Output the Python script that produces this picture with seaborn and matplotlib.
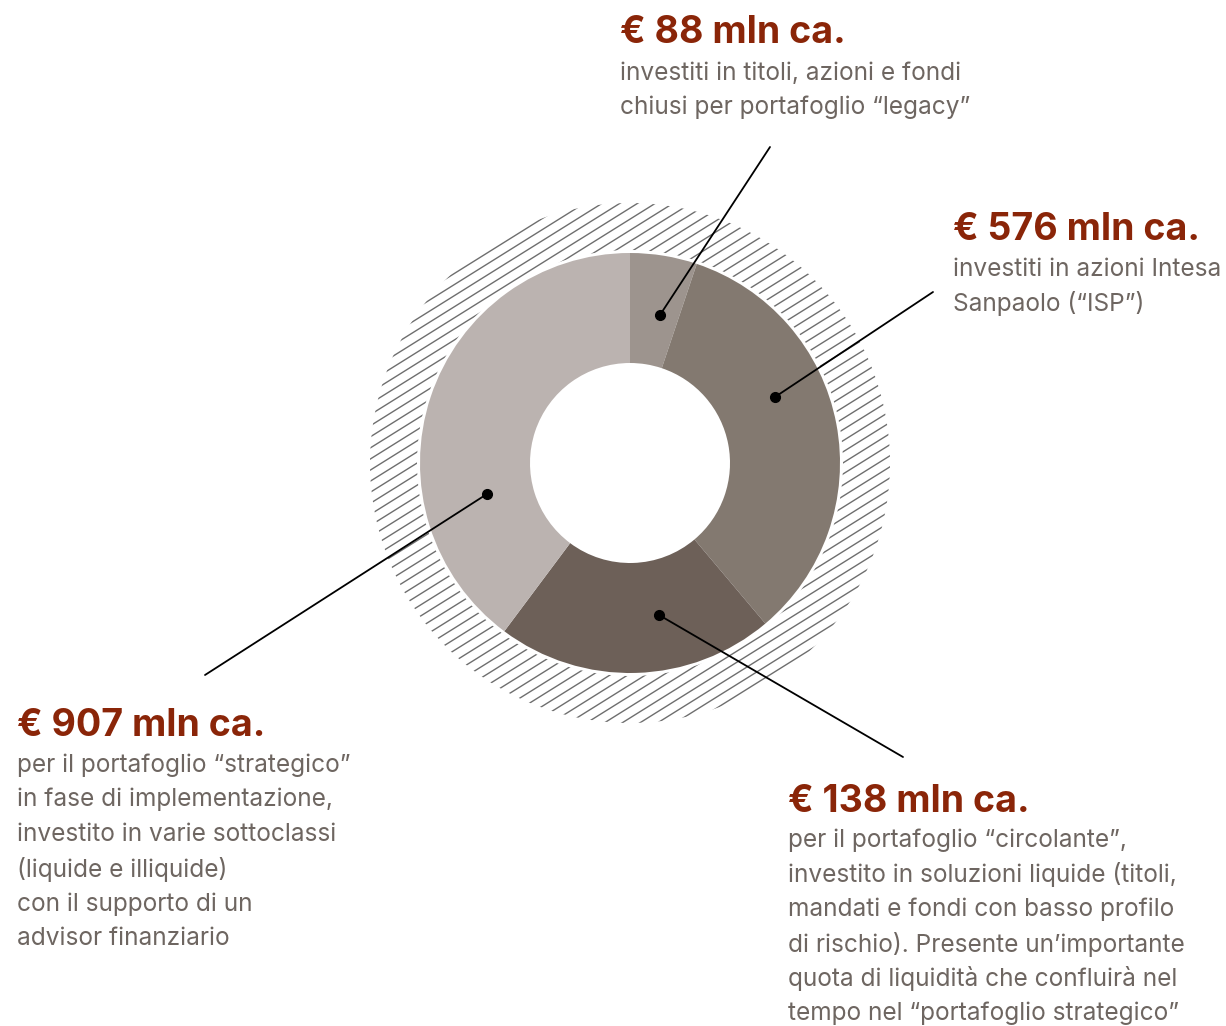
import numpy as np
import seaborn as sns
import matplotlib.pyplot as plt
from matplotlib.patches import Wedge

# Dati
etichette = ['legacy', 'ISP', 'circolante', 'strategico']
importi = ['€ 88 mln ca.', '€ 576 mln ca.', '€ 138 mln ca.', '€ 907 mln ca.']
# quote delle fette come appaiono nel grafico (stimate)
quote = [88, 576, 365, 680]
colori = ['#9d948e', '#837970', '#6d6058', '#bbb3b0']

descrizioni = [
    ['investiti in titoli, azioni e fondi', 'chiusi per portafoglio “legacy”'],
    ['investiti in azioni Intesa', 'Sanpaolo (“ISP”)'],
    ['per il portafoglio “circolante”,', 'investito in soluzioni liquide (titoli,',
     'mandati e fondi con basso profilo', 'di rischio). Presente un’importante',
     'quota di liquidità che confluirà nel', 'tempo nel “portafoglio strategico”'],
    ['per il portafoglio “strategico”', 'in fase di implementazione,',
     'investito in varie sottoclassi', '(liquide e illiquide)',
     'con il supporto di un', 'advisor finanziario'],
]

sns.set_theme(style='white')
plt.rcParams['font.family'] = ['Inter', 'DejaVu Sans']

W, H = 1226, 1026
fig = plt.figure(figsize=(W / 100, H / 100), dpi=100)
ax = fig.add_axes([0, 0, 1, 1])


def Y(y):
    return H - y


centro = (630, Y(463))

# anello tratteggiato esterno
anello = Wedge(centro, 260, 0, 360, width=47, facecolor='none', edgecolor='none')
ax.add_patch(anello)
ang = np.deg2rad(32)
d = np.array([np.cos(ang), np.sin(ang)])
n = np.array([-np.sin(ang), np.cos(ang)])
for k in range(-30, 31):
    p = np.array(centro) + k * 9.4 * n
    a, b = p - 300 * d, p + 300 * d
    ln, = ax.plot([a[0], b[0]], [a[1], b[1]], color='#6e6e6e', lw=1.0, zorder=1)
    ln.set_clip_path(anello)

# ciambella
ax.pie(quote, radius=210, center=centro, colors=colori, startangle=90,
       counterclock=False, wedgeprops=dict(width=110, linewidth=0))

# linee di richiamo
richiami = [((770, 147), (660, 315)), ((933, 292), (775, 397)),
            ((903, 757), (659, 615)), ((205, 675), (487, 494))]
for (x0, y0), (x1, y1) in richiami:
    ax.plot([x0, x1], [Y(y0), Y(y1)], color='black', lw=1.3, zorder=5)
    ax.plot(x1, Y(y1), 'o', color='black', ms=7, zorder=6)

# testi
rosso = '#8a2508'
grigio = '#6e6661'
posizioni = [(620, 33, 73), (953, 230, 269), (788, 802, 840), (17, 726, 765)]
for imp, desc, (x, yt, yd) in zip(importi, descrizioni, posizioni):
    ax.text(x, Y(yt), imp, color=rosso, fontsize=27, fontweight='bold',
            ha='left', va='center')
    for i, riga in enumerate(desc):
        ax.text(x, Y(yd + i * 34.7), riga, color=grigio, fontsize=17.6,
                ha='left', va='center')

ax.set_xlim(0, W)
ax.set_ylim(0, H)
ax.set_aspect('equal')
ax.axis('off')

fig.savefig('out.png', dpi=100)
